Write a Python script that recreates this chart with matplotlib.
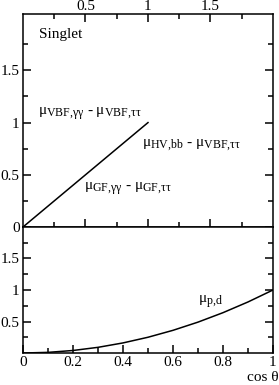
import matplotlib
matplotlib.use("Agg")
import matplotlib.pyplot as plt
from matplotlib.ticker import FixedLocator
try:
    import matplotlib._mathtext as _mt
    _mt.SHRINK_FACTOR = 0.78
except Exception:
    pass

plt.rcParams['font.family'] = ['Liberation Serif', 'DejaVu Serif']
plt.rcParams['mathtext.fontset'] = 'custom'
plt.rcParams['mathtext.rm'] = 'Liberation Serif'
plt.rcParams['mathtext.it'] = 'Liberation Serif:italic'
plt.rcParams['mathtext.bf'] = 'Liberation Serif:bold'

# Data
top_x = [0.0, 1.0]
top_y = [0.0, 1.0]
costheta = [0.0, 0.1, 0.2, 0.3, 0.4, 0.5, 0.6, 0.7, 0.8, 0.9, 1.0]
mu_pd = [0.0, 0.01, 0.04, 0.09, 0.16, 0.25, 0.36, 0.49, 0.64, 0.81, 1.0]
top_xticklabels = ['0.5', '1', '1.5']
top_yticklabels = ['0', '0.5', '1', '1.5']
bot_yticklabels = ['0.5', '1', '1.5']
bot_xticklabels = ['0', '0.2', '0.4', '0.6', '0.8', '1']

fs = 11
lw = 1.1
fig = plt.figure(figsize=(2.79, 3.85), dpi=100)
ax1 = fig.add_axes([0.0824, 0.4104, 0.896, 0.5532])
ax2 = fig.add_axes([0.0824, 0.0831, 0.896, 0.3273])

for ax in (ax1, ax2):
    for s in ax.spines.values():
        s.set_linewidth(lw)
    ax.tick_params(which='both', direction='in', width=lw, labelsize=fs)
    ax.tick_params(which='major', length=6)
    ax.tick_params(which='minor', length=3.5)

# Top panel
ax1.plot(top_x, top_y, color='black', lw=lw)
ax1.set_xlim(0, 2)
ax1.set_ylim(0, 2.04)
ax1.xaxis.set_major_locator(FixedLocator([0.5, 1.0, 1.5]))
ax1.xaxis.set_minor_locator(FixedLocator([0.25, 0.75, 1.25, 1.75]))
ax1.set_xticklabels(top_xticklabels)
ax1.tick_params(axis='x', which='both', top=True, bottom=True, labeltop=True, labelbottom=False, pad=0.5)
ax1.yaxis.set_major_locator(FixedLocator([0, 0.5, 1.0, 1.5]))
ax1.yaxis.set_minor_locator(FixedLocator([0.25, 0.75, 1.25, 1.75]))
ax1.set_yticklabels(top_yticklabels)
ax1.tick_params(axis='y', which='both', left=True, right=True, pad=2.5)

ax1.text(0.13, 1.84, 'Singlet', fontsize=fs, va='center', ha='left')
ax1.text(0.12, 1.09, r'μ$_{\mathrm{VBF{,}\gamma\gamma}}$ - μ$_{\mathrm{VBF{,}\tau\tau}}$', fontsize=fs, va='center', ha='left')
ax1.text(0.95, 0.78, r'μ$_{\mathrm{HV{,}bb}}$ - μ$_{\mathrm{VBF{,}\tau\tau}}$', fontsize=fs, va='center', ha='left')
ax1.text(0.49, 0.37, r'μ$_{\mathrm{GF{,}\gamma\gamma}}$ - μ$_{\mathrm{GF{,}\tau\tau}}$', fontsize=fs, va='center', ha='left')

# Bottom panel
ax2.plot(costheta, mu_pd, color='black', lw=lw)
ax2.set_xlim(0, 1)
ax2.set_ylim(0, 2)
ax2.xaxis.set_major_locator(FixedLocator([0, 0.2, 0.4, 0.6, 0.8, 1.0]))
ax2.xaxis.set_minor_locator(FixedLocator([0.1, 0.3, 0.5, 0.7, 0.9]))
ax2.set_xticklabels(bot_xticklabels)
ax2.tick_params(axis='x', which='both', top=False, bottom=True, pad=2.5)
ax2.yaxis.set_major_locator(FixedLocator([0.5, 1.0, 1.5]))
ax2.yaxis.set_minor_locator(FixedLocator([0.25, 0.75, 1.25, 1.75]))
ax2.set_yticklabels(bot_yticklabels)
ax2.tick_params(axis='y', which='both', left=True, right=True, pad=2.5)
ax2.text(0.70, 0.81, r'μ$_{\mathrm{p{,}d}}$', fontsize=fs, va='center', ha='left')

fig.text(0.997, 0.02, 'cos θ', fontsize=fs, ha='right', va='center')

fig.savefig('out.png', dpi=100)
